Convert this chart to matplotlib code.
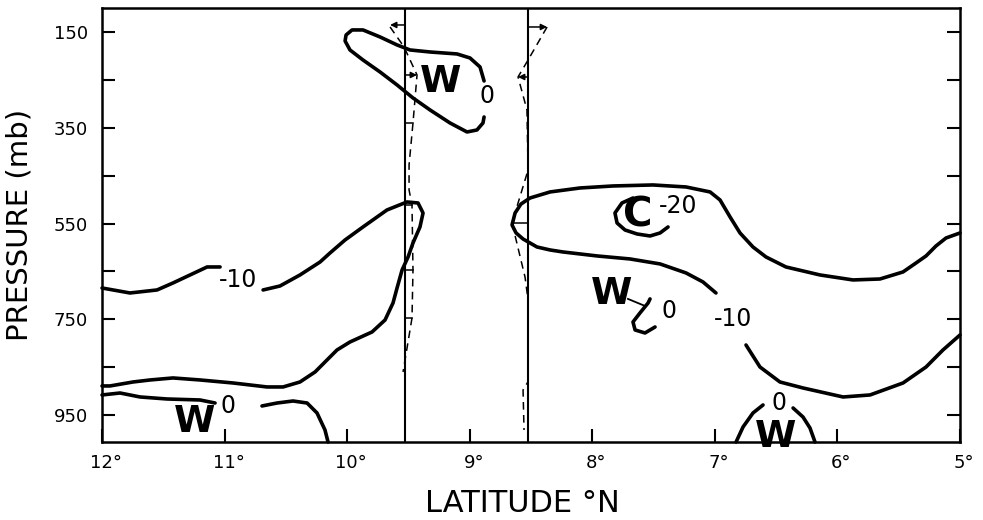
import matplotlib
matplotlib.use("Agg")
import matplotlib.pyplot as plt
import matplotlib.transforms as mtransforms

# ---------------- data (latitude °N, pressure mb) ----------------
lat_ticks = [12, 11, 10, 9, 8, 7, 6, 5]
lat_ticklabels = ["12°", "11°", "10°", "9°", "8°", "7°", "6°", "5°"]
p_ticks = [150, 250, 350, 450, 550, 650, 750, 850, 950]
p_ticklabels = ["150", "", "350", "", "550", "", "750", "", "950"]

# station lines
station_lats = [9.53, 8.525]

# left -10 contour, before its label
left_m10_lat = [12.00, 11.772, 11.551, 11.421, 11.282, 11.143, 11.037]
left_m10_p = [684.5, 694.9, 688.6, 674.0, 657.3, 640.6, 640.6]

# left contour after label, folding back near 9.4°N
left_fold_lat = [10.686, 10.548, 10.385, 10.221, 10.140, 10.017, 9.871, 9.675, 9.512, 9.422,
                 9.381, 9.406, 9.463, 9.503, 9.552, 9.593, 9.626, 9.691, 9.797, 9.977,
                 10.083, 10.140, 10.262, 10.385, 10.523, 10.654, 10.931, 11.200, 11.421,
                 11.608, 11.747, 11.935, 12.000]
left_fold_p = [688.6, 680.3, 657.3, 630.2, 611.4, 584.2, 557.1, 521.6, 504.9, 507.0,
               527.9, 557.1, 590.5, 619.7, 646.9, 684.5, 715.8, 751.3, 776.3, 797.2,
               813.9, 828.5, 859.8, 880.7, 891.1, 891.1, 882.8, 876.5, 872.3,
               876.5, 880.7, 889.0, 889.0]

# bottom-left 0 contour (two pieces around label)
bl_zero_a_lat = [12.0, 11.853, 11.690, 11.470, 11.200, 11.078]
bl_zero_a_p = [907.8, 903.7, 912.0, 916.2, 918.3, 924.6]
bl_zero_b_lat = [10.695, 10.572, 10.442, 10.327, 10.246, 10.181, 10.156]
bl_zero_b_p = [930.8, 924.6, 920.4, 924.6, 945.4, 980.9, 1006.0]

# upper 0 loop (W)
top_loop_lat = [8.883, 8.916, 8.998, 9.104, 9.324, 9.487, 9.593, 9.732, 9.871, 9.960,
                10.009, 10.017, 9.977, 9.871, 9.732, 9.593, 9.463, 9.324, 9.161, 9.022,
                8.941, 8.892, 8.883]
top_loop_p = [252.3, 223.1, 204.3, 195.9, 191.8, 187.6, 177.1, 160.4, 145.8, 145.8,
              156.3, 168.8, 187.6, 208.5, 233.5, 260.6, 287.8, 312.8, 340.0, 358.8,
              354.6, 340.0, 327.5]

# right -10 contour (upper part, from label round the tip to 5°N)
right_m10_lat = [6.991, 7.097, 7.235, 7.447, 7.692, 7.961, 8.239, 8.345, 8.451, 8.565,
                 8.622, 8.655, 8.630, 8.582, 8.508, 8.345, 8.100, 7.831, 7.505, 7.235,
                 7.039, 6.958, 6.876, 6.795, 6.689, 6.583, 6.420, 6.142, 5.873, 5.653,
                 5.465, 5.359, 5.277, 5.196, 5.114, 5.000]
right_m10_p = [694.9, 671.9, 653.1, 634.3, 623.9, 617.6, 609.3, 605.1, 598.9, 582.2,
               569.6, 552.9, 527.9, 509.2, 496.6, 484.0, 475.7, 471.5, 469.4, 473.6,
               484.0, 500.7, 536.2, 569.6, 598.9, 619.7, 640.6, 657.3, 667.7, 665.7,
               651.0, 632.3, 617.6, 596.8, 580.1, 569.6]

# right -10 contour (lower part after label)
right_m10b_lat = [6.746, 6.632, 6.469, 6.281, 5.954, 5.734, 5.465, 5.277, 5.139, 5.000]
right_m10b_p = [803.5, 849.4, 880.7, 893.2, 912.0, 907.8, 882.8, 849.4, 813.9, 782.6]

# bottom-right 0 arch
br_zero_a_lat = [6.827, 6.770, 6.689, 6.607]
br_zero_a_p = [1006.0, 974.6, 945.4, 928.7]
br_zero_b_lat = [6.362, 6.281, 6.224, 6.183]
br_zero_b_p = [935.0, 953.8, 976.7, 1006.0]

# -20 cold centre arc
c20_lat = [7.668, 7.758, 7.815, 7.798, 7.733, 7.635, 7.529, 7.447, 7.382]
c20_p = [496.6, 507.0, 527.9, 548.8, 563.4, 571.7, 575.9, 569.6, 557.1]

# small 0 arc near W / C
wc0_lat = [7.529, 7.545, 7.611, 7.668, 7.651, 7.570, 7.488]
wc0_p = [707.3, 715.8, 736.6, 755.4, 772.1, 778.4, 765.9]
wc0_link_lat = [7.709, 7.570]
wc0_link_p = [707.3, 722.0]

# dashed profiles beside the station lines
left_prof_lat = [9.650, 9.536, 9.430, 9.463, 9.495, 9.495, 9.471, 9.463, 9.471, 9.544]
left_prof_p = [139.6, 181.3, 239.8, 340.0, 427.7, 479.9, 511.2, 646.9, 747.1, 859.8]
right_prof_lat = [8.369, 8.524, 8.606, 8.533, 8.524, 8.655, 8.549, 8.524, 8.524, 8.565, 8.557]
right_prof_p = [139.6, 208.5, 244.0, 312.8, 438.1, 548.8, 661.5, 709.5, 880.0, 897.4, 980.9]

# arrows (level, tip latitude) and plain ticks
left_arrow_p = [135.4, 239.8]
left_arrow_tip = [9.650, 9.430]
left_tick_p = [340.0, 511.2, 646.9, 747.1]
left_tick_end = [9.46, 9.47, 9.465, 9.47]
right_arrow_p = [139.6, 244.0]
right_arrow_tip = [8.369, 8.606]
right_tick_p = [548.8]
right_tick_end = [8.655]

# labels: (text, lat, p, kind)
labels = [
    ("-10", 10.890, 667.8, "num"),
    ("0", 10.970, 930.8, "num"),
    ("W", 11.249, 964.2, "W"),
    ("W", 9.234, 254.4, "W"),
    ("0", 8.859, 283.6, "num"),
    ("C", 7.627, 534.1, "C"),
    ("-20", 7.300, 513.3, "num"),
    ("W", 7.839, 697.0, "W"),
    ("0", 7.374, 732.5, "num"),
    ("-10", 6.852, 749.2, "num"),
    ("0", 6.477, 924.5, "num"),
    ("W", 6.501, 995.5, "W"),
]

# ---------------- figure ----------------
plt.rcParams['font.family'] = ['DejaVu Sans']
fig = plt.figure(figsize=(9.83, 5.20), dpi=100)
ax = fig.add_axes([0.1038, 0.15, 0.8728, 0.8346])
ax.set_xlim(12, 5)
ax.set_ylim(1006, 100)

lw = 2.6
ck = dict(color="black", lw=lw, solid_capstyle="round", solid_joinstyle="round", clip_on=False)
for xs, ys in [(left_m10_lat, left_m10_p), (left_fold_lat, left_fold_p),
               (bl_zero_a_lat, bl_zero_a_p), (bl_zero_b_lat, bl_zero_b_p),
               (top_loop_lat, top_loop_p), (right_m10_lat, right_m10_p),
               (right_m10b_lat, right_m10b_p), (br_zero_a_lat, br_zero_a_p),
               (br_zero_b_lat, br_zero_b_p), (c20_lat, c20_p), (wc0_lat, wc0_p)]:
    ax.plot(xs, ys, **ck)
ax.plot(wc0_link_lat, wc0_link_p, color="black", lw=1.3)

for s in station_lats:
    ax.axvline(s, color="black", lw=1.5)

dk = dict(color="black", lw=1.1, linestyle=(0, (5, 3.5)))
ax.plot(left_prof_lat, left_prof_p, **dk)
ax.plot(right_prof_lat, right_prof_p, **dk)

for p, tip in zip(left_arrow_p, left_arrow_tip):
    ax.annotate("", xy=(tip, p), xytext=(station_lats[0], p),
                arrowprops=dict(arrowstyle="-|>", color="black", lw=1.1,
                                mutation_scale=9, shrinkA=0, shrinkB=0))
for p, tip in zip(right_arrow_p, right_arrow_tip):
    ax.annotate("", xy=(tip, p), xytext=(station_lats[1], p),
                arrowprops=dict(arrowstyle="-|>", color="black", lw=1.1,
                                mutation_scale=9, shrinkA=0, shrinkB=0))
for p, e in zip(left_tick_p, left_tick_end):
    ax.plot([station_lats[0], e], [p, p], color="black", lw=1.1)
for p, e in zip(right_tick_p, right_tick_end):
    ax.plot([station_lats[1], e], [p, p], color="black", lw=1.1)

for txt, x, y, kind in labels:
    if kind == "W":
        ax.text(x, y, txt, fontsize=27, fontweight="bold", ha="center", va="center",
                clip_on=False)
    elif kind == "C":
        ax.text(x, y, txt, fontsize=29, fontweight="bold", ha="center", va="center")
    else:
        ax.text(x, y, txt, fontsize=17, ha="center", va="center")

ax.set_xticks(lat_ticks)
ax.set_xticklabels(lat_ticklabels)
ax.set_yticks(p_ticks)
ax.set_yticklabels(p_ticklabels)
ax.tick_params(axis="x", direction="in", length=9.5, width=1.5, pad=9, labelsize=13,
               top=False, bottom=True)
ax.tick_params(axis="y", direction="in", length=9.5, width=1.5, pad=10, labelsize=13,
               left=True, right=True)
# numerals centred on the tick, degree sign hanging to the right
shift = mtransforms.ScaledTranslation(4 / 100, 0, fig.dpi_scale_trans)
for lab in ax.get_xticklabels():
    lab.set_transform(lab.get_transform() + shift)
for sp in ax.spines.values():
    sp.set_linewidth(1.8)

ax.set_xlabel("LATITUDE °N", fontsize=22)
ax.xaxis.set_label_coords(0.4895, -0.108)
ax.set_ylabel("PRESSURE (mb)", fontsize=21)
ax.yaxis.set_label_coords(-0.080, 0.5)

fig.savefig("out.png", dpi=100)
